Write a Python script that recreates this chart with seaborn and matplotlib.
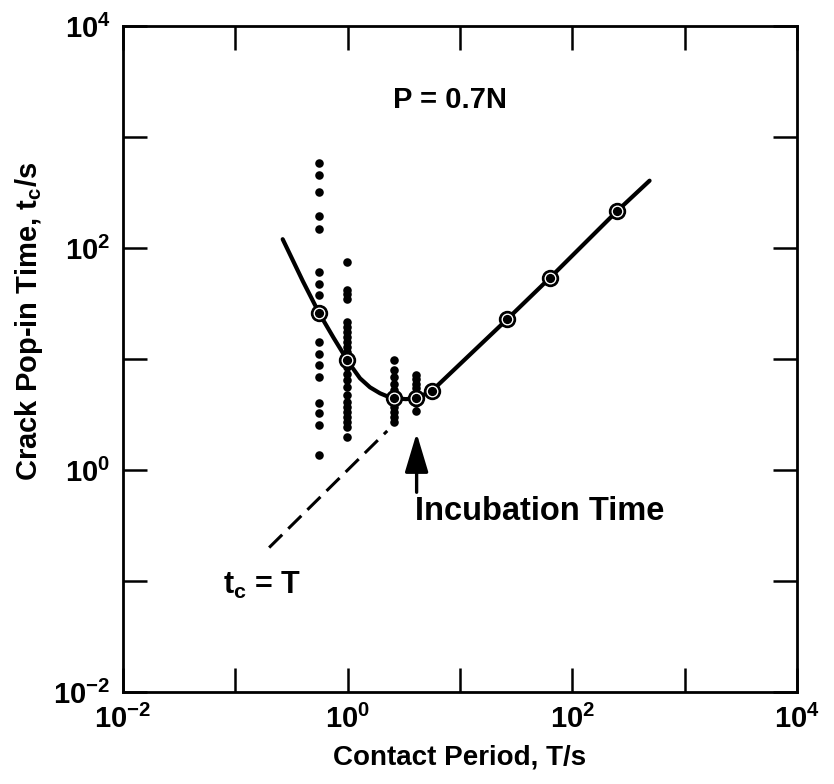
import numpy as np
import pandas as pd
import matplotlib
matplotlib.use("Agg")
import matplotlib.pyplot as plt
import seaborn as sns

# ---- data ----
# individual pop-in observations, grouped by contact period T (s)
T_groups = [0.556, 0.99, 2.59, 4.06]
tc_T06 = [580, 455, 321, 194, 148, 61, 47, 37.7, 14.3, 11.2, 8.8, 6.9, 4.0, 3.24, 2.54, 1.36]
tc_T10 = [75, 42, 38.5, 35, 21.7, 19.5, 17.6, 15.9, 14.3, 12.9, 11.6, 8.5, 7.4, 6.5,
          5.6, 4.7, 4.1, 3.7, 3.35, 3.0, 2.72, 2.45, 2.0]
tc_T26 = [9.8, 8.0, 6.9, 6.0, 5.3, 3.7, 3.35, 3.0, 2.72]
tc_T42 = [7.2, 6.6, 6.0, 5.45, 4.0, 3.4]

# median (ringed) points
T_med = [0.556, 0.99, 2.59, 4.06, 5.6, 26.4, 63.4, 250]
tc_med = [26, 9.8, 4.43, 4.43, 5.15, 22.9, 54, 215]

# fitted curve
T_fit = [0.264, 0.40, 0.556, 0.75, 0.99, 1.088, 1.288, 1.58, 1.94, 2.30, 2.59, 3.3,
         4.06, 5.6, 26.4, 63.4, 250, 487]
tc_fit = [120, 50, 26, 15.5, 9.8, 8.5, 6.7, 5.56, 4.91, 4.57, 4.43, 4.35,
          4.43, 5.15, 22.9, 54, 215, 404]

# t_c = T reference line
T_ref = [0.2, 2.25]
tc_ref = [0.2, 2.25]

x_ticks = [1e-2, 1e-1, 1e0, 1e1, 1e2, 1e3, 1e4]
x_ticklabels = [r"$\mathdefault{10^{-2}}$", "", r"$\mathdefault{10^{0}}$", "",
                r"$\mathdefault{10^{2}}$", "", r"$\mathdefault{10^{4}}$"]
y_ticks = [1e-2, 1e-1, 1e0, 1e1, 1e2, 1e3, 1e4]
y_ticklabels = x_ticklabels

# ---- style ----
sns.set_theme(style="white")
fam = ["Liberation Sans", "DejaVu Sans"]
plt.rcParams["font.family"] = fam
plt.rcParams["font.weight"] = "bold"
plt.rcParams["mathtext.default"] = "regular"
for k in ["text.color", "axes.labelcolor", "xtick.color", "ytick.color", "axes.edgecolor"]:
    plt.rcParams[k] = "black"

fig = plt.figure(figsize=(8.34, 7.84), dpi=100)
ax = fig.add_axes([123 / 834, 1 - 692 / 784, 674 / 834, 666 / 784])

obs = pd.DataFrame({
    "T": [T_groups[0]] * len(tc_T06) + [T_groups[1]] * len(tc_T10)
         + [T_groups[2]] * len(tc_T26) + [T_groups[3]] * len(tc_T42),
    "tc": tc_T06 + tc_T10 + tc_T26 + tc_T42,
})
fit = pd.DataFrame({"T": T_fit, "tc": tc_fit})
ref = pd.DataFrame({"T": T_ref, "tc": tc_ref})
med = pd.DataFrame({"T": T_med, "tc": tc_med})

ax.set_xscale("log")
ax.set_yscale("log")

sns.scatterplot(data=obs, x="T", y="tc", ax=ax, color="black", s=38,
                edgecolor="black", linewidth=0, zorder=3)
sns.lineplot(data=fit, x="T", y="tc", ax=ax, color="black", lw=3.0,
             sort=False, estimator=None, zorder=4)
sns.lineplot(data=ref, x="T", y="tc", ax=ax, color="black", lw=2.2,
             sort=False, estimator=None, zorder=2)
ax.lines[-1].set_dashes((6, 2.8))
# ringed median markers
ax.plot(med["T"], med["tc"], "o", ms=11.5, mfc="black", mec="black", zorder=5)
ax.plot(med["T"], med["tc"], "o", ms=7.6, mfc="white", mec="white", zorder=6)
ax.plot(med["T"], med["tc"], "o", ms=5.6, mfc="black", mec="black", zorder=7)

ax.set_xlim(1e-2, 1e4)
ax.set_ylim(1e-2, 1e4)
ax.set_xticks(x_ticks)
ax.set_xticklabels(x_ticklabels, fontweight="bold")
ax.set_yticks(y_ticks)
ax.set_yticklabels(y_ticklabels, fontweight="bold")
ax.minorticks_off()
ax.tick_params(which="major", direction="in", length=17, width=1.8, color="black",
               labelcolor="black", top=True, right=True, bottom=True, left=True,
               labelsize=21, pad=9)
for s in ax.spines.values():
    s.set_color("black")
    s.set_linewidth(2.0)

ax.set_xlabel("Contact Period, T/s", fontsize=20, fontweight="bold", labelpad=8, color="black")
ax.set_ylabel(r"Crack Pop-in Time, t$_{c}$/s", fontsize=21, fontweight="bold", color="black")
ax.yaxis.set_label_coords(-0.116, 0.556)

ax.text(8.2, 2150, "P = 0.7N", fontsize=21, fontweight="bold", ha="center", va="center", color="black")
ax.text(0.077, 0.092, r"t$_{c}$ = T", fontsize=22, fontweight="bold", ha="left", va="center", color="black")
ax.text(3.98, 0.42, "Incubation Time", fontsize=23.5, fontweight="bold", ha="left", va="center", color="black")
ax.annotate("", xy=(4.11, 2.15), xytext=(4.11, 0.63),
            arrowprops=dict(arrowstyle="-|>,head_length=2.0,head_width=0.6", color="black",
                            lw=2.4, shrinkA=0, shrinkB=0))

ax.grid(False)
fig.savefig("out.png", dpi=100)
